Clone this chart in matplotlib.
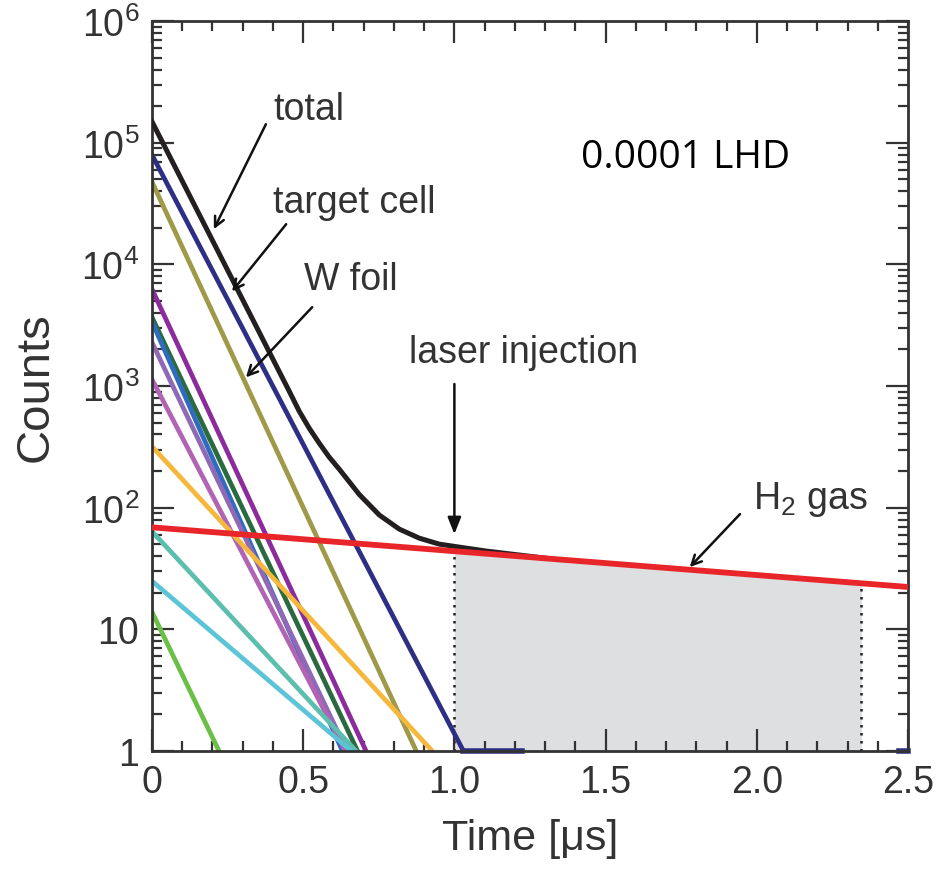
import matplotlib
matplotlib.use("Agg")
import matplotlib.pyplot as plt
import numpy as np
from matplotlib.ticker import MultipleLocator, FixedLocator, LogLocator, NullFormatter

plt.rcParams["font.family"] = ["Liberation Sans", "DejaVu Sans"]
plt.rcParams["mathtext.fontset"] = "custom"
plt.rcParams["mathtext.rm"] = "Liberation Sans"
plt.rcParams["mathtext.default"] = "regular"

TXT = "#333333"

# decay components: counts at t=0 and the time they reach 1 count
comp_start = [8.0e4, 4.8e4, 6.3e3, 3.7e3, 3.4e3, 2.3e3, 1.14e3, 3.2e2, 64, 25, 14]
comp_end_t = [1.03, 0.874, 0.708, 0.68, 0.63, 0.645, 0.64, 0.927, 0.675, 0.66, 0.222]
comp_colors = ["#2e2f84", "#9e9a48", "#8c2c9c", "#2a6a3e", "#2f6cc0", "#8f68b6",
               "#b164b4", "#f5b83c", "#5cbfae", "#5cc4d7", "#6bbf47"]

# target-cell tail lying on the floor
tail_t = [1.03, 1.225]
tail_c = [1, 1]

# H2 gas background
gas_t = [0.0, 2.5]
gas_c = [69, 22.3]

# total
total_t = [0.0, 0.454, 0.487, 0.520, 0.553, 0.586, 0.619, 0.652, 0.685,
           0.752, 0.818, 0.884, 0.950, 1.017, 1.106, 1.3]
total_c = [1.5e5, 908, 622, 451, 340, 261, 208, 164, 129,
           87, 66.7, 56.2, 50.2, 47.4, 44.0, 38.5]

# gated window
gate_t = [1.0, 2.345]

fig = plt.figure(figsize=(9.49, 8.7), dpi=100)
ax = fig.add_axes([0.160, 0.1356, 0.797, 0.839])

ax.plot(total_t, total_c, color="#231f20", lw=3.6, zorder=3, solid_joinstyle="round")
for s, e, c in zip(comp_start, comp_end_t, comp_colors):
    ax.plot([0, e], [s, 1], color=c, lw=3.4, zorder=2)
ax.plot(tail_t, tail_c, color=comp_colors[0], lw=4, zorder=2, clip_on=False)
ax.plot([2.47, 2.5], [1, 1], color=comp_colors[0], lw=4, zorder=2, clip_on=False)
ax.plot(gas_t, gas_c, color="#e8262a", lw=4.2, zorder=4)

# shaded gate under the gas line
lg = np.interp(gate_t, gas_t, np.log10(gas_c))
gate_c = 10 ** lg
ax.fill_between(gate_t, 1, gate_c, color="#dedfe1", lw=0, zorder=1)
ax.vlines(gate_t, 1, gate_c, colors="#222222", linestyles=(0, (1, 2.2)), lw=1.8, zorder=1.5)

ax.set_yscale("log")
ax.set_xlim(0, 2.5)
ax.set_ylim(1, 1e6)

ax.xaxis.set_minor_locator(MultipleLocator(0.1))
ax.set_xticks([0, 0.5, 1.0, 1.5, 2.0, 2.5])
ax.set_xticklabels(["0", "0.5", "1.0", "1.5", "2.0", "2.5"])
ax.yaxis.set_major_locator(FixedLocator([1, 10, 1e2, 1e3, 1e4, 1e5, 1e6]))
ax.yaxis.set_minor_locator(LogLocator(base=10, subs=np.arange(2, 10)))
ax.yaxis.set_minor_formatter(NullFormatter())
ax.set_yticklabels(["1", "10", "$10^2$", "$10^3$", "$10^4$", "$10^5$", "$10^6$"])

ax.tick_params(which="both", direction="in", top=True, right=True, colors=TXT,
               labelsize=27, width=1.6, pad=9)
ax.tick_params(which="major", length=16)
ax.tick_params(which="minor", length=7)
for sp in ax.spines.values():
    sp.set_color(TXT)
    sp.set_linewidth(2.0)

ax.set_xlabel("Time [μs]", fontsize=31, color=TXT)
ax.xaxis.set_label_coords(0.5, -0.092)
ax.set_ylabel("Counts", fontsize=34, color=TXT)
ax.yaxis.set_label_coords(-0.125, 0.5)

arrow = dict(arrowstyle="->,head_length=0.7,head_width=0.35", color="#111111", lw=1.8,
             shrinkA=0, shrinkB=0)
ax.annotate("", xy=(0.205, 1.95e4), xytext=(0.377, 1.42e5), arrowprops=arrow)
ax.annotate("", xy=(0.265, 6.0e3), xytext=(0.444, 2.14e4), arrowprops=arrow)
ax.annotate("", xy=(0.311, 1.18e3), xytext=(0.530, 4.45e3), arrowprops=arrow)
ax.annotate("", xy=(1.778, 32.5), xytext=(1.944, 88.6), arrowprops=arrow)
ax.annotate("", xy=(1.0, 60.7), xytext=(1.0, 1.04e3),
            arrowprops=dict(arrowstyle="-|>,head_length=1.0,head_width=0.4", color="#111111",
                            lw=1.8, shrinkA=0, shrinkB=0))

ax.text(0.52, 1.88e5, "total", fontsize=27, color=TXT, ha="center", va="center")
ax.text(0.669, 3.24e4, "target cell", fontsize=27, color=TXT, ha="center", va="center")
ax.text(0.659, 7.55e3, "W foil", fontsize=27, color=TXT, ha="center", va="center")
ax.text(1.228, 1.9e3, "laser injection", fontsize=27, color=TXT, ha="center", va="center")
ax.text(2.175, 118, "H$_2$ gas", fontsize=27, color=TXT, ha="center", va="center")
ax.text(1.765, 7.6e4, "0.0001 LHD", fontsize=28, color="black", ha="center", va="center",
        family=["Open Sans", "DejaVu Sans"])

fig.savefig("out.png", dpi=100)
